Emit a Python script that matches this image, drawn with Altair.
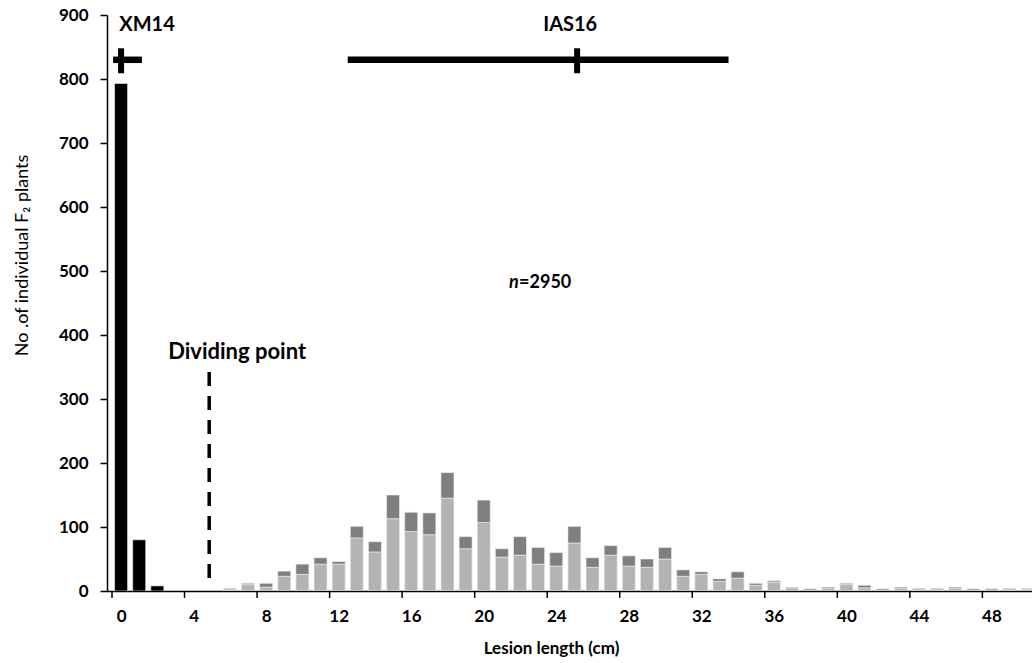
import altair as alt
import pandas as pd

# ---- data ----
cm = list(range(0, 51))
black = [793, 80, 8] + [0] * 48
light = [0, 0, 0, 0, 0, 0,
         2, 10, 6, 23, 26, 42, 42, 83, 61, 113,
         93, 88, 145, 66, 107, 53, 56, 42, 39, 75,
         37, 56, 39, 37, 50, 23, 26, 15, 20, 9,
         14, 5, 4, 4, 10, 5, 4, 4, 2, 2,
         4, 4, 4, 2, 3]
dark = [0, 0, 0, 0, 0, 0,
        2, 2, 6, 8, 16, 10, 4, 18, 16, 37,
        30, 34, 40, 19, 35, 13, 29, 26, 21, 26,
        15, 15, 16, 13, 18, 10, 4, 4, 10, 3,
        2, 1, 0, 2, 2, 4, 0, 2, 2, 2,
        2, 0, 0, 2, 1]

series_names = ["black", "light", "dark"]
series_colors = ["#000000", "#b3b3b3", "#7f7f7f"]

# parent ranges (start, end, mean) and label
parent_names = ["XM14", "IAS16"]
parent_lo = [-0.44, 12.5]
parent_hi = [1.15, 33.5]
parent_mid = [0.0, 25.15]
parent_level = [830, 830]
parent_label_x = [-0.1, 24.77]
parent_label_y = [884, 884]

divide_x = [4.86]
divide_y_top = [342]
divide_y_bot = [13]

x_label_values = list(range(0, 49, 4))
x_tick_values = [k - 0.5 for k in range(0, 52, 4)]
y_values = list(range(0, 901, 100))

rows = []
for i, c in enumerate(cm):
    for order, (name, arr) in enumerate(zip(series_names, [black, light, dark])):
        if arr[i] > 0:
            rows.append({"cm": c, "count": arr[i], "series": name, "ord": order})
df = pd.DataFrame(rows)

FONT = "Lato"

xscale = alt.Scale(domain=[-0.5, 49.96], nice=False, zero=False)
yscale = alt.Scale(domain=[0, 900], nice=False)

bars = alt.Chart(df).mark_bar(size=13, clip=True, stroke="#f2f2f2", strokeWidth=0.6).encode(
    x=alt.X("cm:Q", scale=xscale,
            axis=alt.Axis(values=x_label_values, ticks=False, labelPadding=17,
                          labelFlush=False, labelOverlap=False,
                          labelFontSize=17, labelFontWeight="bold",
                          title="Lesion length (cm)", titleFontSize=17, titleFontWeight="bold",
                          titleX=444, titleY=57, titleBaseline="middle", titleAlign="center",
                          grid=False)),
    y=alt.Y("count:Q", stack="zero", scale=yscale,
            axis=alt.Axis(values=y_values, tickSize=7, labelPadding=12,
                          labelFontSize=17, labelFontWeight="bold",
                          title="No .of individual  F\u2082 plants", titleFontSize=18,
                          titleFontWeight="normal", titleX=-85, titleY=240,
                          titleBaseline="middle", titleAlign="center", grid=False)),
    color=alt.Color("series:N", scale=alt.Scale(domain=series_names, range=series_colors), legend=None),
    order=alt.Order("ord:Q", sort="ascending"),
)

# x-axis tick marks sit between categories (every 4th boundary)
tick_df = pd.DataFrame({"t": x_tick_values})
xticks = alt.Chart(tick_df).mark_rule(strokeWidth=1.5, color="black").encode(
    x=alt.X("t:Q", scale=xscale), y=alt.value(576), y2=alt.value(583))

pdf = pd.DataFrame({"name": parent_names, "lo": parent_lo, "hi": parent_hi, "mid": parent_mid,
                    "lev": parent_level, "lx": parent_label_x, "ly": parent_label_y})
pdf["tick_lo"] = [809, 809]
pdf["tick_hi"] = [848, 848]

hbar = alt.Chart(pdf).mark_rule(strokeWidth=6.5, color="black", strokeCap="butt").encode(
    x=alt.X("lo:Q", scale=xscale), x2="hi:Q", y=alt.Y("lev:Q", scale=yscale))
vtick = alt.Chart(pdf).mark_rule(strokeWidth=6, color="black", strokeCap="butt").encode(
    x=alt.X("mid:Q", scale=xscale), y=alt.Y("tick_lo:Q", scale=yscale), y2="tick_hi:Q")
plabel_left = alt.Chart(pdf.iloc[[0]]).mark_text(font=FONT, fontSize=20, fontWeight="bold",
                                                 baseline="middle", align="left").encode(
    x=alt.X("lx:Q", scale=xscale), y=alt.Y("ly:Q", scale=yscale), text="name:N")
plabel_center = alt.Chart(pdf.iloc[[1]]).mark_text(font=FONT, fontSize=20, fontWeight="bold",
                                                   baseline="middle", align="center").encode(
    x=alt.X("lx:Q", scale=xscale), y=alt.Y("ly:Q", scale=yscale), text="name:N")

ddf = pd.DataFrame({"x": divide_x, "y1": divide_y_top, "y2": divide_y_bot})
dline = alt.Chart(ddf).mark_rule(strokeWidth=3.5, color="black", strokeDash=[14, 10],
                                 strokeCap="butt").encode(
    x=alt.X("x:Q", scale=xscale), y=alt.Y("y1:Q", scale=yscale), y2="y2:Q")

tdf = pd.DataFrame({"t": ["Dividing point"], "x": [6.4], "y": [373]})
dtext = alt.Chart(tdf).mark_text(font=FONT, fontSize=22, fontWeight="bold", baseline="middle",
                                 align="center").encode(
    x=alt.X("x:Q", scale=xscale), y=alt.Y("y:Q", scale=yscale), text="t:N")

ndf = pd.DataFrame({"t": ["n"], "x": [21.93], "y": [481]})
n_text = alt.Chart(ndf).mark_text(font=FONT, fontSize=18, fontWeight="bold", fontStyle="italic",
                                  baseline="middle", align="right").encode(
    x=alt.X("x:Q", scale=xscale), y=alt.Y("y:Q", scale=yscale), text="t:N")
vdf = pd.DataFrame({"t": ["=2950"], "x": [21.95], "y": [481]})
v_text = alt.Chart(vdf).mark_text(font=FONT, fontSize=18, fontWeight="bold",
                                  baseline="middle", align="left").encode(
    x=alt.X("x:Q", scale=xscale), y=alt.Y("y:Q", scale=yscale), text="t:N")

chart = alt.layer(bars, xticks, dline, hbar, vtick, plabel_left, plabel_center, dtext, n_text, v_text).properties(
    width=925, height=576,
    padding={"left": 107, "top": 15, "right": 0, "bottom": 72},
    autosize=alt.AutoSizeParams(type="none"),
    background="white",
).configure_view(stroke=None).configure_axis(
    domainColor="black", tickColor="black", domainWidth=1.5, tickWidth=1.5,
    labelColor="black", titleColor="black", labelFont=FONT, titleFont=FONT,
)

chart.save("out.html", embed_options={"renderer": "svg", "actions": False})
